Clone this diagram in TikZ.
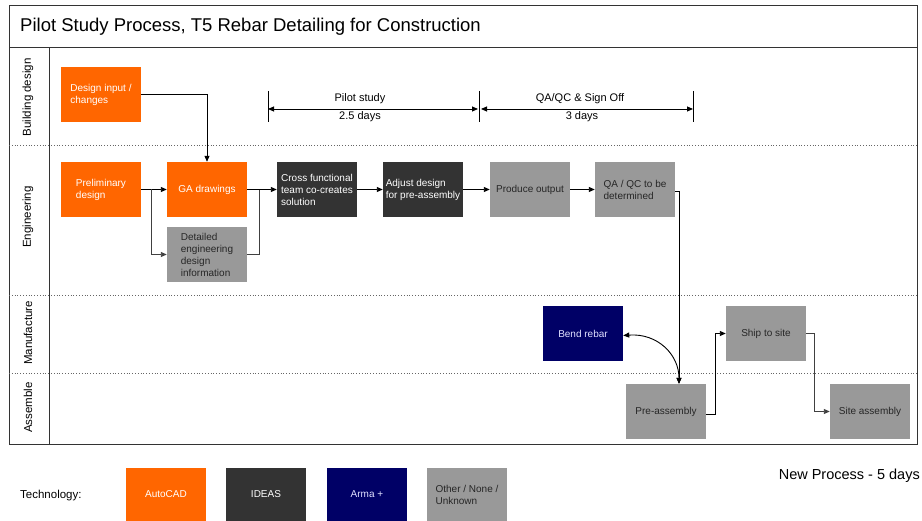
\documentclass[tikz,border=0pt]{standalone}
\usepackage{fontspec}
\setmainfont{Liberation Sans}
\usetikzlibrary{arrows.meta,calc}
\definecolor{cadorange}{HTML}{FF6600}
\definecolor{ideasgray}{HTML}{333333}
\definecolor{armanavy}{HTML}{000066}
\definecolor{othergray}{HTML}{999999}
\definecolor{framegray}{HTML}{333333}
\tikzset{
  box/.style={rectangle, minimum width=80pt, minimum height=55pt, inner sep=2pt,
    align=left, font=\fontsize{10}{12}\selectfont},
  autocad/.style={box, fill=cadorange, text=white},
  ideas/.style={box, fill=ideasgray, text=white},
  arma/.style={box, fill=armanavy, text=white!88!blue},
  other/.style={box, fill=othergray, text=black!85},
  arr/.style={draw=black, line width=0.9pt, -{Triangle[length=6pt,width=5pt]}},
  link/.style={draw=black!75, line width=0.9pt},
  lane/.style={draw=black!60, line width=0.8pt, dotted},
  lanelabel/.style={rotate=90, font=\fontsize{11.5}{13}\selectfont},
  dimtext/.style={font=\fontsize{11}{13}\selectfont},
  dimline/.style={line width=0.9pt, {Triangle[length=6pt,width=5pt]}-{Triangle[length=6pt,width=5pt]}},
  tick/.style={line width=0.9pt}
}
\begin{document}
\begin{tikzpicture}[x=1pt,y=-1pt]
\useasboundingbox (0,0) rectangle (922,521);

% pool frame, title band and lane header column
\draw[framegray, line width=1pt] (9,6) rectangle (917,445);
\draw[framegray, line width=1pt] (9,48) -- (917,48);
\draw[framegray, line width=1pt] (49,48) -- (49,445);
\node[anchor=west, inner sep=0pt, font=\fontsize{18.5}{20}\selectfont] (title) at (20,27)
  {Pilot Study Process, T5 Rebar Detailing for Construction};

% lane separators
\draw[lane] (9,145) -- (917,145);
\draw[lane] (9,295) -- (917,295);
\draw[lane] (9,373) -- (917,373);

% lane names
\node[lanelabel] (lbuild) at (28,97.5) {Building design};
\node[lanelabel] (leng) at (28,217) {Engineering};
\node[lanelabel] (lman) at (28,333) {Manufacture};
\node[lanelabel] (lass) at (28,407.5) {Assemble};

% process steps
\node[autocad] (din) at (101,94.5) {Design input /\\changes};
\node[autocad] (pre) at (101,189.5) {Preliminary\\design};
\node[autocad] (ga) at (207,189.5) {GA drawings};
\node[other] (det) at (207,254.5) {Detailed\\engineering\\design\\information};
\node[ideas] (cross) at (317,189.5) {Cross functional\\team co-creates\\solution};
\node[ideas] (adj) at (423,189.5) {Adjust design\\for pre-assembly};
\node[other] (prod) at (530,189.5) {Produce output};
\node[other] (qa) at (635,189.5) {QA / QC to be\\determined};
\node[arma] (bend) at (583,333.5) {Bend rebar};
\node[other] (ship) at (766,333.5) {Ship to site};
\node[other] (preas) at (666,411.5) {Pre-assembly};
\node[other] (site) at (870,411.5) {Site assembly};

% helper points for branching connectors
\coordinate (split) at ($(pre.east)+(10,0)$);
\coordinate (merge) at ($(ga.east)+(12,0)$);
\coordinate (drop) at ($(preas.north)+(13,0)$);

% connectors
\draw[arr] (din.east) -| (ga.north);
\draw[arr] (pre.east) -- (ga.west);
\draw[arr, draw=black!75] (split) |- (det.west);
\draw[link] (det.east) -| (merge);
\draw[arr] (ga.east) -- (cross.west);
\draw[arr] (cross.east) -- (adj.west);
\draw[arr] (adj.east) -- (prod.west);
\draw[arr] (prod.east) -- (qa.west);
\draw[arr] ([yshift=-2pt]qa.east) -| (drop);
\draw[line width=0.9pt, {Triangle[length=6pt,width=5pt]}-{Triangle[length=6pt,width=5pt]}]
  ([yshift=-2pt]bend.east) .. controls (658,333) and (679,355) .. (drop);
\draw[arr] ([yshift=-3pt]preas.east) -- ++(9,0) |- (ship.west);
\draw[arr, draw=black!75] (ship.east) -- ++(8,0) |- (site.west);

% duration markers
\coordinate (t1a) at (268,91); \coordinate (t1b) at (268,122);
\coordinate (t2a) at (479,91); \coordinate (t2b) at (479,122);
\coordinate (t3a) at (693,91); \coordinate (t3b) at (693,122);
\coordinate (d1s) at (268,109); \coordinate (d1e) at (478,109);
\coordinate (d2s) at (481,109); \coordinate (d2e) at (693,109);
\draw[tick] (t1a) -- (t1b);
\draw[tick] (t2a) -- (t2b);
\draw[tick] (t3a) -- (t3b);
\draw[dimline] (d1s) -- (d1e);
\draw[dimline] (d2s) -- (d2e);
\node[dimtext] (pilot) at (360,99) {Pilot study};
\node[dimtext] (pilotd) at (360,117) {2.5 days};
\node[dimtext] (qaqc) at (580,99) {QA/QC \& Sign Off};
\node[dimtext] (qaqcd) at (582,117) {3 days};

% technology key
\node[anchor=west, inner sep=0pt, font=\fontsize{11.5}{13}\selectfont] (tech) at (20,496) {Technology:};
\node[autocad, minimum height=53pt] (kcad) at (166,494.5) {AutoCAD};
\node[ideas, minimum height=53pt] (kideas) at (266,494.5) {IDEAS};
\node[arma, minimum height=53pt] (karma) at (367,494.5) {Arma +};
\node[other, minimum height=53pt] (kother) at (467,494.5) {Other / None /\\Unknown};
\node[anchor=east, inner sep=0pt, font=\fontsize{14.5}{16}\selectfont] (total) at (920,476) {New Process - 5 days};
\end{tikzpicture}
\end{document}
